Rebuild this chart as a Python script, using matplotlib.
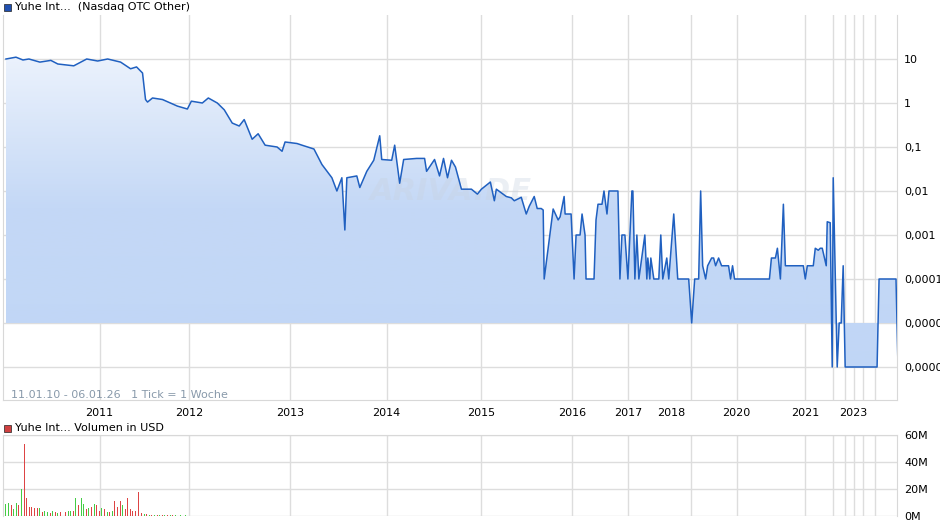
import matplotlib
matplotlib.use('Agg')
import matplotlib.pyplot as plt
import numpy as np

# chart position (ticks along the compressed time axis) and closing price in USD
pos = [3, 13, 20, 26, 37, 48, 55, 71, 84, 95, 105, 118, 128, 134, 140, 143, 145, 150, 160, 175,
       185, 189, 200, 206, 215, 222, 230, 237, 242, 250, 256, 263, 275, 280, 283, 295, 300, 312, 320, 330,
       335, 340, 343, 345, 355, 358, 365, 372, 378, 380, 390, 393, 398, 402, 415, 423, 425, 433, 438, 442,
       446, 450, 454, 460, 470, 476, 480, 489, 493, 495, 505, 510, 513, 520, 525, 528, 533, 536, 540, 542,
       543, 552, 557, 559, 563, 564, 570, 573, 575, 579, 581, 584, 585, 593, 595, 597, 601, 603, 606, 608,
       617, 619, 621, 624, 627, 631, 632, 634, 636, 638, 644, 646, 647, 649, 650, 653, 658, 660, 662, 666,
       668, 673, 677, 688, 691, 694, 698, 700, 702, 705, 707, 711, 713, 715, 718, 721, 728, 730, 732, 734,
       769, 771, 775, 777, 780, 783, 785, 803, 805, 807, 813, 815, 818, 820, 822, 826, 827, 830, 832, 833,
       837, 839, 841, 843, 845, 877, 879, 896, 898]
price = [10, 11, 9.5, 10, 8.5, 9.3, 7.7, 7, 10, 9, 10, 8.5, 6, 6.6, 4.8, 1.2, 1.05, 1.3, 1.2, 0.85,
         0.73, 1.1, 1.0, 1.3, 1.0, 0.7, 0.35, 0.3, 0.42, 0.15, 0.2, 0.11, 0.1, 0.08, 0.13, 0.12, 0.11, 0.09, 0.04, 0.02,
         0.01, 0.02, 0.0013, 0.02, 0.022, 0.012, 0.028, 0.05, 0.18, 0.052, 0.05, 0.11, 0.015, 0.052, 0.055, 0.055, 0.028, 0.052, 0.022, 0.055,
         0.02, 0.05, 0.035, 0.011, 0.011, 0.0085, 0.011, 0.016, 0.006, 0.011, 0.0075, 0.007, 0.006, 0.0072, 0.003, 0.0045, 0.0075, 0.004, 0.004, 0.0037,
         0.0001, 0.0039, 0.0022, 0.0026, 0.0075, 0.003, 0.003, 0.0001, 0.001, 0.001, 0.003, 0.001, 0.0001, 0.0001, 0.0022, 0.005, 0.005, 0.01, 0.003, 0.01,
         0.01, 0.0001, 0.001, 0.001, 0.0001, 0.01, 0.01, 0.0001, 0.001, 0.0001, 0.001, 0.0001, 0.0003, 0.0001, 0.0003, 0.0001, 0.0001, 0.001, 0.0001, 0.0003,
         0.0001, 0.003, 0.0001, 0.0001, 0.00001, 0.0001, 0.0001, 0.01, 0.0002, 0.0001, 0.0002, 0.0003, 0.0003, 0.0002, 0.0003, 0.0002, 0.0002, 0.0001, 0.0002, 0.0001,
         0.0001, 0.0003, 0.0003, 0.0005, 0.0001, 0.005, 0.0002, 0.0002, 0.0001, 0.0002, 0.0002, 0.0005, 0.00045, 0.0005, 0.0005, 0.0002, 0.002, 0.0019, 0.000001, 0.02,
         0.000001, 0.00001, 0.00001, 0.0002, 0.000001, 0.000001, 0.0001, 0.0001, 0.000001]

grid_pos = [97, 187, 288, 385, 480, 571, 627, 690, 736, 805, 833, 845, 854, 863, 875]
year_labels = ['2011', '2012', '2013', '2014', '2015', '2016', '2017', '2018', '2020', '2021', '2023']
year_pos = [97, 187, 288, 385, 480, 571, 627, 670, 736, 805, 853]
ytick_vals = [10, 1, 0.1, 0.01, 0.001, 0.0001, 0.00001, 0.000001]
ytick_labels = ['10', '1', '0,1', '0,01', '0,001', '0,0001', '0,00001', '0,000001']

# volume in million USD, first bars, then small tail
vol_head = [9, 10, 8, 5, 10, 8, 20, 53, 13, 7, 7, 6, 6, 6, 3, 4, 3, 2, 4, 3, 2, 3, 2, 3, 4, 4,
            4, 13, 8, 13, 9, 5, 6, 7, 9, 8, 4, 6, 5, 3, 3, 4, 11, 7, 11, 8, 5, 13, 5, 4, 4, 18]
vol_dir = 'ggrggrgrrrrrrgrggrgrgrgrggrgrggrgrgrrgrgrgrrrgrrrrrr'
vol_tail = [2, 1.5, 1.2, 1.0, 0.8, 0.9, 0.6, 0.7, 0.5, 0.6, 0.5, 0.4, 0.5, 0.4, 0.3, 0.4, 0.3, 0.4, 0.3, 0.3]

fig = plt.figure(figsize=(9.4, 5.26), dpi=100)
W, H = 940, 526
ax = fig.add_axes([3 / W, (H - 400) / H, 894 / W, 385 / H])
ax.set_yscale('log')
ax.set_xlim(0, 897)
ymin, ymax = 10 ** -6.75, 100
ax.set_ylim(ymin, ymax)

base = 0.00001
fill = ax.fill_between(pos, price, base, color='none', lw=0)
grad = np.linspace(0, 1, 256).reshape(-1, 1)
cmap = matplotlib.colors.LinearSegmentedColormap.from_list('g', ['#c0d6f6', '#c4d8f6', '#f6f9fe'])
img = ax.imshow(grad, cmap=cmap, aspect='auto', origin='lower',
                extent=[0, 1, 0, 1], transform=ax.transAxes, zorder=1)
img.set_clip_path(fill.get_paths()[0], transform=ax.transData)
ax.set_xlim(0, 897)
ax.set_ylim(ymin, ymax)
ax.plot(pos, price, color='#2060c0', lw=1.1, zorder=3)

ax.set_xticks(grid_pos)
ax.set_xticklabels([])
ax.set_yticks(ytick_vals)
ax.set_yticklabels(ytick_labels)
ax.yaxis.set_minor_locator(matplotlib.ticker.NullLocator())
ax.tick_params(length=0, labelsize=8, right=True, left=False, labelright=True, labelleft=False, pad=5)
ax.grid(True, color='#dddddd', lw=1, zorder=0)
ax.set_axisbelow(True)
for s in ax.spines.values():
    s.set_color('#d8d8d8')
ax.spines['top'].set_visible(False)
for lab, p in zip(year_labels, year_pos):
    ax.text(p, -0.035, lab, transform=ax.get_xaxis_transform(), ha='center', va='center', fontsize=8)
ax.text(8, 0.013, '11.01.10 - 06.01.26   1 Tick = 1 Woche', transform=ax.get_xaxis_transform(),
        fontsize=8, color='#8899aa', va='center')
ax.text(450, 0.01, 'ARIVA.DE', fontsize=22, fontweight='bold', style='italic', color='#c8d2e0',
        alpha=0.35, ha='center', va='center', zorder=2)

fig.patches.append(matplotlib.patches.Rectangle((4 / W, 1 - 11 / H), 7 / W, 7 / H, transform=fig.transFigure,
                   facecolor='#2050b0', edgecolor='#222222', lw=0.5))
fig.text(15 / W, 1 - 7 / H, 'Yuhe Int...  (Nasdaq OTC Other)', fontsize=8, va='center')
fig.patches.append(matplotlib.patches.Rectangle((4 / W, 1 - 432 / H), 7 / W, 7 / H, transform=fig.transFigure,
                   facecolor='#d04040', edgecolor='#222222', lw=0.5))
fig.text(15 / W, 1 - 428 / H, 'Yuhe Int... Volumen in USD', fontsize=8, va='center')

vx = fig.add_axes([3 / W, 10 / H, 894 / W, 81 / H])
vx.set_xlim(0, 897)
vx.set_ylim(0, 60)
head_x = [3 + 2.6 * i for i in range(len(vol_head))]
cols = ['#dd4444' if c == 'r' else '#44cc44' for c in vol_dir[:len(vol_head)]]
vx.bar(head_x, vol_head, width=1, color=cols, zorder=3)
tail_x = [139 + 2.6 * i for i in range(len(vol_tail))]
vx.bar(tail_x, vol_tail, width=1, color=['#dd4444', '#44cc44'] * 10, zorder=3)
vx.set_xticks(grid_pos)
vx.set_xticklabels([])
vx.set_yticks([0, 20, 40, 60])
vx.set_yticklabels(['0M', '20M', '40M', '60M'])
vx.tick_params(length=0, labelsize=8, right=True, left=False, labelright=True, labelleft=False, pad=5)
vx.grid(True, color='#dddddd', lw=1, zorder=0)
vx.set_axisbelow(True)
for s in vx.spines.values():
    s.set_color('#d8d8d8')
vx.spines['bottom'].set_visible(False)

fig.savefig('out.png', dpi=100)
